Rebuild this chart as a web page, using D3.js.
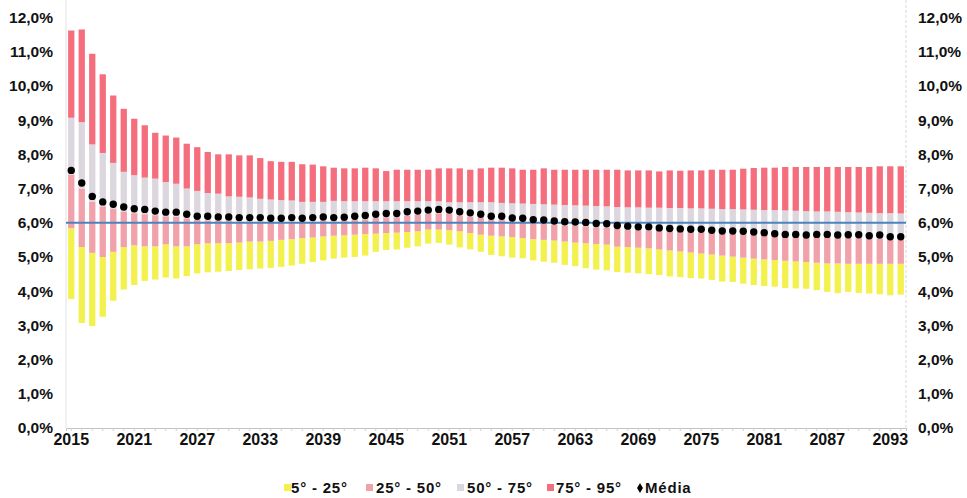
<!DOCTYPE html>
<html>
<head>
<meta charset="utf-8">
<script src="https://cdn.jsdelivr.net/npm/d3@7"></script>
<style>
  html, body { margin: 0; padding: 0; background: #fff; }
  svg { display: block; }
  text { font-family: "Liberation Sans", Arial, sans-serif; font-weight: bold; fill: #111; }
</style>
</head>
<body>
<svg id="chart" width="967" height="498"></svg>
<script>
const years = [
  2015,2016,2017,2018,2019,2020,2021,2022,2023,2024,2025,2026,2027,2028,2029,2030,
  2031,2032,2033,2034,2035,2036,2037,2038,2039,2040,2041,2042,2043,2044,2045,2046,
  2047,2048,2049,2050,2051,2052,2053,2054,2055,2056,2057,2058,2059,2060,2061,2062,
  2063,2064,2065,2066,2067,2068,2069,2070,2071,2072,2073,2074,2075,2076,2077,2078,
  2079,2080,2081,2082,2083,2084,2085,2086,2087,2088,2089,2090,2091,2092,2093,2094
];
const p5 = [
  3.77,3.07,2.98,3.25,3.72, 4.05,4.18,4.30,4.34,4.40, 4.37,4.44,4.52,4.55,4.57,
  4.59,4.62,4.64,4.66,4.68, 4.71,4.75,4.80,4.85,4.90, 4.95,4.98,5.00,5.04,5.15,
  5.20,5.22,5.27,5.31,5.39, 5.41,5.36,5.28,5.22,5.15, 5.06,5.02,4.98,4.96,4.90,
  4.86,4.83,4.77,4.73,4.67, 4.63,4.61,4.56,4.54,4.52, 4.50,4.47,4.43,4.41,4.38,
  4.37,4.33,4.28,4.27,4.22, 4.18,4.15,4.13,4.09,4.08, 4.07,4.03,3.98,3.94,3.98,
  3.95,3.93,3.91,3.88,3.90
];
const p25 = [
  5.84,5.29,5.12,5.00,5.15, 5.29,5.34,5.31,5.31,5.37, 5.31,5.31,5.37,5.40,5.40,
  5.40,5.42,5.45,5.45,5.47, 5.50,5.52,5.55,5.57,5.60, 5.62,5.63,5.65,5.67,5.68,
  5.70,5.71,5.73,5.75,5.80, 5.80,5.78,5.75,5.70,5.65, 5.62,5.60,5.58,5.55,5.52,
  5.50,5.48,5.45,5.42,5.40, 5.38,5.36,5.30,5.29,5.27, 5.25,5.22,5.19,5.16,5.13,
  5.10,5.07,5.04,5.01,4.98, 4.95,4.93,4.91,4.89,4.87, 4.85,4.83,4.81,4.81,4.80,
  4.80,4.80,4.80,4.80,4.80
];
const p50 = [
  7.40,7.00,6.62,6.48,6.40, 6.33,6.28,6.25,6.22,6.19, 6.18,6.13,6.08,6.07,6.06,
  6.05,6.04,6.04,6.04,6.02, 6.02,6.03,6.02,6.03,6.05, 6.04,6.05,6.08,6.10,6.14,
  6.16,6.16,6.21,6.23,6.26, 6.28,6.26,6.21,6.18,6.14, 6.08,6.08,6.03,6.02,5.98,
  5.97,5.94,5.92,5.91,5.90, 5.87,5.86,5.82,5.80,5.79, 5.78,5.76,5.75,5.74,5.73,
  5.72,5.70,5.69,5.68,5.67, 5.65,5.64,5.62,5.61,5.61, 5.60,5.59,5.58,5.57,5.56,
  5.55,5.54,5.53,5.51,5.50
];
const p75 = [
  9.07,8.94,8.29,8.04,7.75, 7.49,7.39,7.32,7.29,7.19, 7.14,7.00,6.93,6.87,6.85,
  6.77,6.76,6.74,6.70,6.68, 6.66,6.65,6.61,6.61,6.61, 6.64,6.63,6.63,6.63,6.63,
  6.63,6.63,6.63,6.63,6.63, 6.63,6.60,6.60,6.60,6.60, 6.60,6.58,6.57,6.56,6.55,
  6.54,6.53,6.52,6.51,6.50, 6.49,6.48,6.46,6.45,6.45, 6.44,6.44,6.43,6.43,6.42,
  6.42,6.41,6.40,6.40,6.39, 6.38,6.37,6.37,6.36,6.35, 6.34,6.33,6.33,6.32,6.31,
  6.30,6.29,6.28,6.28,6.27
];
const p95 = [
  11.62,11.65,10.94,10.34,9.72, 9.33,9.04,8.85,8.63,8.55, 8.49,8.31,8.21,8.07,8.00,
  8.00,7.97,7.97,7.89,7.80, 7.78,7.78,7.71,7.70,7.65, 7.61,7.59,7.59,7.61,7.59,
  7.51,7.55,7.55,7.55,7.55, 7.59,7.59,7.59,7.55,7.59, 7.61,7.61,7.59,7.55,7.55,
  7.59,7.55,7.55,7.55,7.55, 7.55,7.55,7.55,7.53,7.53, 7.53,7.50,7.53,7.52,7.53,
  7.53,7.55,7.55,7.55,7.58, 7.60,7.61,7.61,7.63,7.63, 7.63,7.63,7.63,7.63,7.63,
  7.63,7.63,7.65,7.65,7.65
];
const media = [
  7.53,7.16,6.77,6.61,6.54, 6.46,6.41,6.39,6.34,6.31, 6.31,6.25,6.19,6.19,6.17,
  6.17,6.15,6.15,6.15,6.13, 6.13,6.15,6.13,6.15,6.17, 6.15,6.16,6.19,6.21,6.25,
  6.27,6.27,6.32,6.34,6.37, 6.39,6.37,6.32,6.29,6.25, 6.19,6.19,6.14,6.13,6.09,
  6.08,6.05,6.03,6.02,6.01, 5.98,5.97,5.92,5.90,5.88, 5.88,5.85,5.83,5.82,5.81,
  5.81,5.78,5.76,5.76,5.75, 5.73,5.71,5.68,5.66,5.66, 5.64,5.66,5.66,5.64,5.65,
  5.65,5.62,5.64,5.59,5.59
];
const referenceRate = 6.0;
const yTicks = [0,1,2,3,4,5,6,7,8,9,10,11,12];
const xTickYears = [2015,2021,2027,2033,2039,2045,2051,2057,2063,2069,2075,2081,2087,2093];
const seriesNames = ["5° - 25°", "25° - 50°", "50° - 75°", "75° - 95°"];
const seriesColors = ["#f3f14e", "#f1a1aa", "#dcd6de", "#f56e7d"];
const meanName = "Média";

const svg = d3.select("#chart");
const plotLeft = 66, plotRight = 906, plotTop = 17.5, plotBottom = 428;

const x = d3.scaleBand().domain(years).range([plotLeft, plotRight]).paddingInner(0.4).paddingOuter(0.2);
const y = d3.scaleLinear().domain([0, 12]).range([plotBottom, plotTop]);
const fmt = d => d.toFixed(1).replace(".", ",") + "%";

// frame lines
svg.append("line").attr("x1", plotLeft).attr("x2", plotLeft).attr("y1", 0).attr("y2", plotBottom)
  .attr("stroke", "#e2e2e2").attr("stroke-width", 1);
svg.append("line").attr("x1", plotRight).attr("x2", plotRight).attr("y1", 0).attr("y2", plotBottom)
  .attr("stroke", "#d8d8d8").attr("stroke-width", 1).attr("stroke-dasharray", "3,2");

// stacked floating bars
const rows = years.map((yr, i) => ({
  year: yr,
  segs: [[p5[i], p25[i]], [p25[i], p50[i]], [p50[i], p75[i]], [p75[i], p95[i]]]
}));
const barG = svg.append("g");
seriesNames.forEach((name, k) => {
  barG.append("g").selectAll("rect").data(rows).join("rect")
    .attr("x", d => x(d.year))
    .attr("width", x.bandwidth())
    .attr("y", d => y(d.segs[k][1]))
    .attr("height", d => y(d.segs[k][0]) - y(d.segs[k][1]))
    .attr("fill", seriesColors[k]);
});

// reference line at 6%
svg.append("line")
  .attr("x1", plotLeft).attr("x2", plotRight)
  .attr("y1", y(referenceRate)).attr("y2", y(referenceRate))
  .attr("stroke", "#4a83bd").attr("stroke-width", 2);

// mean dots
svg.append("g").selectAll("circle").data(years).join("circle")
  .attr("cx", (d) => x(d) + x.bandwidth() / 2)
  .attr("cy", (d, i) => y(media[i]))
  .attr("r", 3.7)
  .attr("fill", "#000");

// x axis
const xAxisMinor = d3.axisBottom(x).tickSize(3).tickFormat("");
svg.append("g").attr("transform", `translate(0,${plotBottom})`).call(xAxisMinor)
  .call(g => g.select(".domain").attr("stroke", "#c4c4c4"))
  .call(g => g.selectAll(".tick line").attr("stroke", "#cfcfcf"));
const xAxis = d3.axisBottom(x).tickValues(xTickYears).tickSize(0).tickPadding(6);
svg.append("g").attr("transform", `translate(0,${plotBottom})`).call(xAxis)
  .call(g => g.select(".domain").remove())
  .call(g => g.selectAll("text").attr("font-size", 16).attr("font-family", "Liberation Sans, Arial, sans-serif").attr("font-weight", "bold").attr("fill", "#111"));

// y axes
const yAxisL = d3.axisLeft(y).tickValues(yTicks).tickFormat(fmt).tickSize(0).tickPadding(13);
svg.append("g").attr("transform", `translate(${plotLeft},0)`).call(yAxisL)
  .call(g => g.select(".domain").remove())
  .call(g => g.selectAll("text").attr("font-size", 15.5).attr("font-family", "Liberation Sans, Arial, sans-serif").attr("font-weight", "bold").attr("fill", "#111"));
const yAxisR = d3.axisRight(y).tickValues(yTicks).tickFormat(fmt).tickSize(0).tickPadding(12);
svg.append("g").attr("transform", `translate(${plotRight},0)`).call(yAxisR)
  .call(g => g.select(".domain").remove())
  .call(g => g.selectAll("text").attr("font-size", 15.5).attr("font-family", "Liberation Sans, Arial, sans-serif").attr("font-weight", "bold").attr("fill", "#111"));

// legend
const legendItems = [
  { name: seriesNames[0], color: seriesColors[0], sx: 284, tx: 291 },
  { name: seriesNames[1], color: seriesColors[1], sx: 366, tx: 376 },
  { name: seriesNames[2], color: seriesColors[2], sx: 457, tx: 467 },
  { name: seriesNames[3], color: seriesColors[3], sx: 547, tx: 556 }
];
const ly = 488;
const lg = svg.append("g");
legendItems.forEach(it => {
  lg.append("rect").attr("x", it.sx).attr("y", ly - 4).attr("width", 7).attr("height", 7).attr("fill", it.color);
  lg.append("text").attr("x", it.tx).attr("y", ly).attr("dy", "0.36em")
    .attr("font-size", 15).attr("letter-spacing", "0.8px").text(it.name);
});
lg.append("path").attr("d", d3.symbol(d3.symbolDiamond, 30)()).attr("transform", `translate(640,${ly})`).attr("fill", "#000");
lg.append("text").attr("x", 645).attr("y", ly).attr("dy", "0.36em")
  .attr("font-size", 15).attr("letter-spacing", "0.8px").text(meanName);
</script>
</body>
</html>
